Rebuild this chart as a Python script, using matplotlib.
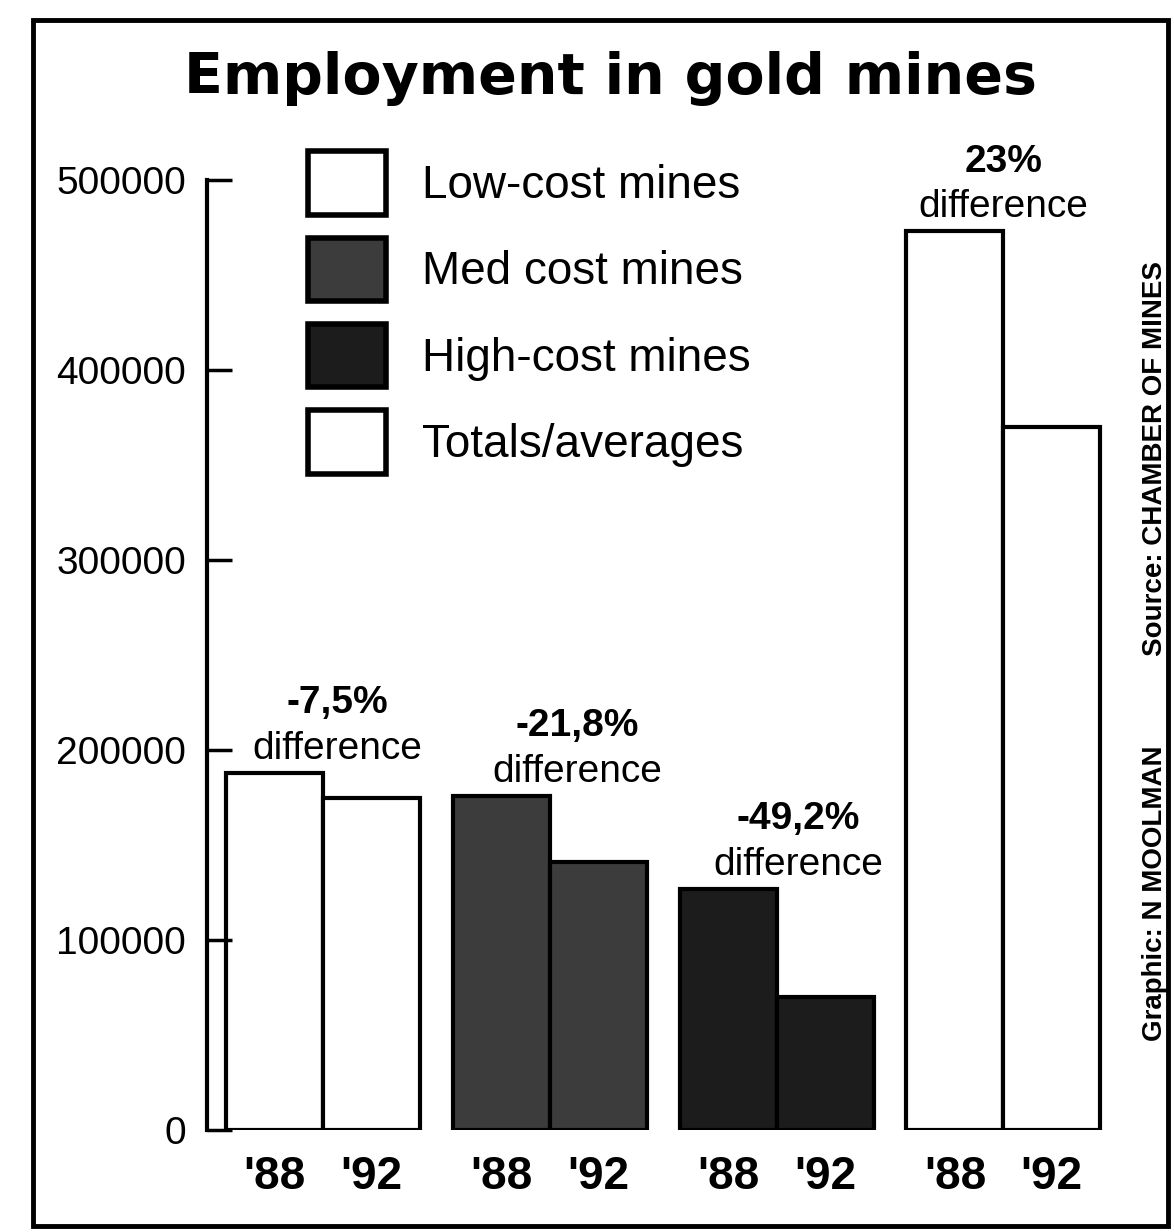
import matplotlib
matplotlib.use('Agg')
import matplotlib.pyplot as plt
from matplotlib.patches import Patch, Rectangle

# chart data
#
groups = ['Low-cost mines', 'Med cost mines', 'High-cost mines', 'Totals/averages']
year_labels = ["'88", "'92"]
emp_88 = [188000, 176000, 127000, 473000]
emp_92 = [175000, 141000, 70000, 370000]
diff_labels = ['-7,5%', '-21,8%', '-49,2%', '23%']
y_ticks = [0, 100000, 200000, 300000, 400000, 500000]

title = 'Employment in gold mines'
source = 'Source: CHAMBER OF MINES'
credit = 'Graphic: N MOOLMAN'

# styling per group
face = ['white', '#3c3c3c', '#1c1c1c', 'white']
txt_shift = [0.15, 0.28, 0.22, 0.0]   # label shift from the '88/'92 boundary
step = 2.34                           # group spacing in bar widths

plt.rcParams['font.family'] = ['Liberation Sans', 'DejaVu Sans']

W, H = 1174, 1232
fig = plt.figure(figsize=(W / 100, H / 100), dpi=100)
fig.patch.set_facecolor('white')
ax = fig.add_axes([207 / W, (H - 1130) / H, (1108 - 207) / W, (1130 - 180) / H])

# bars
#
x88 = [g * step + 0.5 for g in range(len(groups))]
x92 = [g * step + 1.5 for g in range(len(groups))]
ax.bar(x88, emp_88, width=1.0, color=face, edgecolor='black', linewidth=3)
ax.bar(x92, emp_92, width=1.0, color=face, edgecolor='black', linewidth=3)

# difference labels above each pair
#
for g in range(len(groups)):
    xb = g * step + 1.0 + txt_shift[g]
    ax.annotate('difference', xy=(xb, emp_88[g]), xytext=(0, 10), textcoords='offset points',
                ha='center', va='baseline', fontsize=28)
    ax.annotate(diff_labels[g], xy=(xb, emp_88[g]), xytext=(0, 43), textcoords='offset points',
                ha='center', va='baseline', fontsize=28, fontweight='bold')

# axes
#
ax.set_xlim(-0.2, 9.1)
ax.set_ylim(0, 500000)
ax.set_yticks(y_ticks)
ax.set_yticklabels([str(t) for t in y_ticks])
ax.set_xticks(x88 + x92)
ax.set_xticklabels([year_labels[0]] * 4 + [year_labels[1]] * 4, fontweight='bold')
ax.tick_params(axis='y', direction='in', length=18, width=2.5, labelsize=28, pad=15)
ax.tick_params(axis='x', length=0, labelsize=33, pad=18)
for side in ['top', 'right', 'bottom']:
    ax.spines[side].set_visible(False)
ax.spines['left'].set_linewidth(3)
ax.patch.set_alpha(0)

# legend
#
handles = [Patch(facecolor=face[i], edgecolor='black', linewidth=4, label=groups[i]) for i in range(4)]
ax.legend(handles=handles, loc='upper left', bbox_to_anchor=(0.112, 1.03), frameon=False,
          fontsize=33, handlelength=1.7, handleheight=1.75, labelspacing=0.5,
          handletextpad=0.8, borderpad=0, borderaxespad=0)

# title, credits and frame
#
fig.text(610 / W, 1 - 78 / H, title, ha='center', va='center', fontsize=41,
         fontweight='bold', family='DejaVu Sans')
fig.text(1155 / W, 1 - 458 / H, source, rotation=90, ha='center', va='center', fontsize=20,
         fontweight='bold')
fig.text(1155 / W, 1 - 893 / H, credit, rotation=90, ha='center', va='center', fontsize=20,
         fontweight='bold')
fig.add_artist(Rectangle((33 / W, 1 - 1226 / H), (1168 - 33) / W, (1226 - 20) / H,
                         transform=fig.transFigure, fill=False, edgecolor='black', linewidth=3.5))

fig.savefig('out.png', dpi=100, facecolor='white')
